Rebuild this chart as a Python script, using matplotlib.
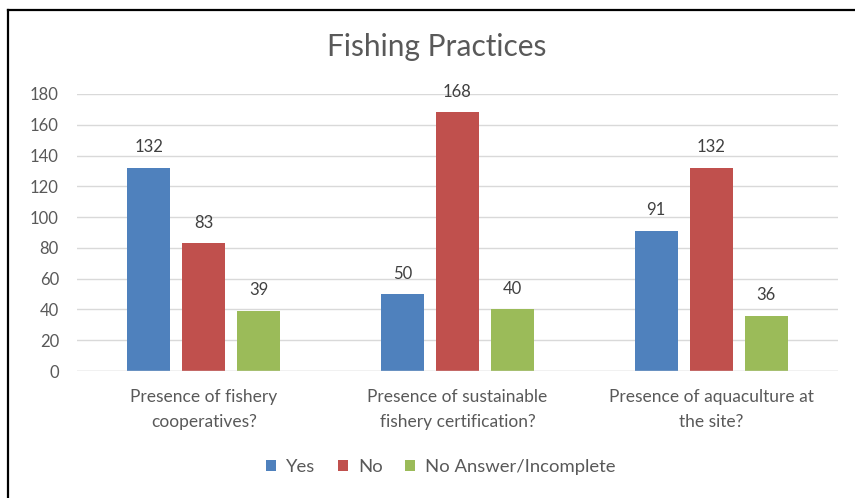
import matplotlib
matplotlib.use("Agg")
import matplotlib.pyplot as plt
import numpy as np
from matplotlib.lines import Line2D
from matplotlib.patches import Patch

categories = ["Presence of fishery\ncooperatives?",
              "Presence of sustainable\nfishery certification?",
              "Presence of aquaculture at\nthe site?"]
series_names = ["Yes", "No", "No Answer/Incomplete"]
yes_vals = [132, 50, 91]
no_vals = [83, 168, 132]
na_vals = [39, 40, 36]
y_ticks = [0, 20, 40, 60, 80, 100, 120, 140, 160, 180]

colors = ["#4F81BD", "#C0504D", "#9BBB59"]
text_color = "#595959"
font = ["Lato", "DejaVu Sans"]

W, H = 855, 498
fig = plt.figure(figsize=(W / 100, H / 100), dpi=100)
ax = fig.add_axes([77 / W, 1 - 371 / H, (838 - 77) / W, (371 - 94) / H])

x = np.arange(len(categories))
width = 0.17
step = 0.217
for i, (vals, col) in enumerate(zip([yes_vals, no_vals, na_vals], colors)):
    pos = x + (i - 1) * step
    bars = ax.bar(pos, vals, width, color=col, label=series_names[i], zorder=3)
    for b, v in zip(bars, vals):
        ax.annotate(str(v), (b.get_x() + b.get_width() / 2, v), xytext=(0, 9),
                    textcoords="offset points", ha="center", va="bottom",
                    fontsize=12, color="#404040", family=font)

ax.set_xlim(-0.5, 2.5)
ax.set_ylim(0, 180)
ax.set_yticks(y_ticks)
ax.set_xticks(x)
ax.set_xticklabels(categories, fontsize=12.5, color=text_color, family=font, linespacing=1.7)
for lbl in ax.get_yticklabels():
    lbl.set_family(font)
    lbl.set_fontsize(12)
    lbl.set_color(text_color)
ax.tick_params(axis="both", length=0)
ax.tick_params(axis="y", pad=13)
ax.tick_params(axis="x", pad=13)
ax.grid(axis="y", color="#D9D9D9", linewidth=1, zorder=0)
for s in ax.spines.values():
    s.set_visible(False)
ax.axhline(0, color="#D9D9D9", linewidth=1, zorder=4)

fig.text(437 / W, 1 - 47 / H, "Fishing Practices", ha="center", va="center",
         fontsize=21.5, color=text_color, family=font)

handles = [Patch(facecolor=c, edgecolor="none") for c in colors]
fig.legend(handles, series_names, loc="center", bbox_to_anchor=(441 / W, 1 - 467 / H),
           ncol=3, frameon=False, handlelength=0.55, handleheight=0.55, handletextpad=0.55,
           columnspacing=1.2, prop={"family": font, "size": 13.3}, labelcolor=text_color)

# surrounding frame
fig.add_artist(Line2D([7.5 / W, 7.5 / W], [0, 1 - 10.5 / H], transform=fig.transFigure,
                      color="black", linewidth=1.6))
fig.add_artist(Line2D([7.5 / W, 1], [1 - 10.5 / H, 1 - 10.5 / H], transform=fig.transFigure,
                      color="black", linewidth=1.6))

fig.savefig("out.png", dpi=100)
